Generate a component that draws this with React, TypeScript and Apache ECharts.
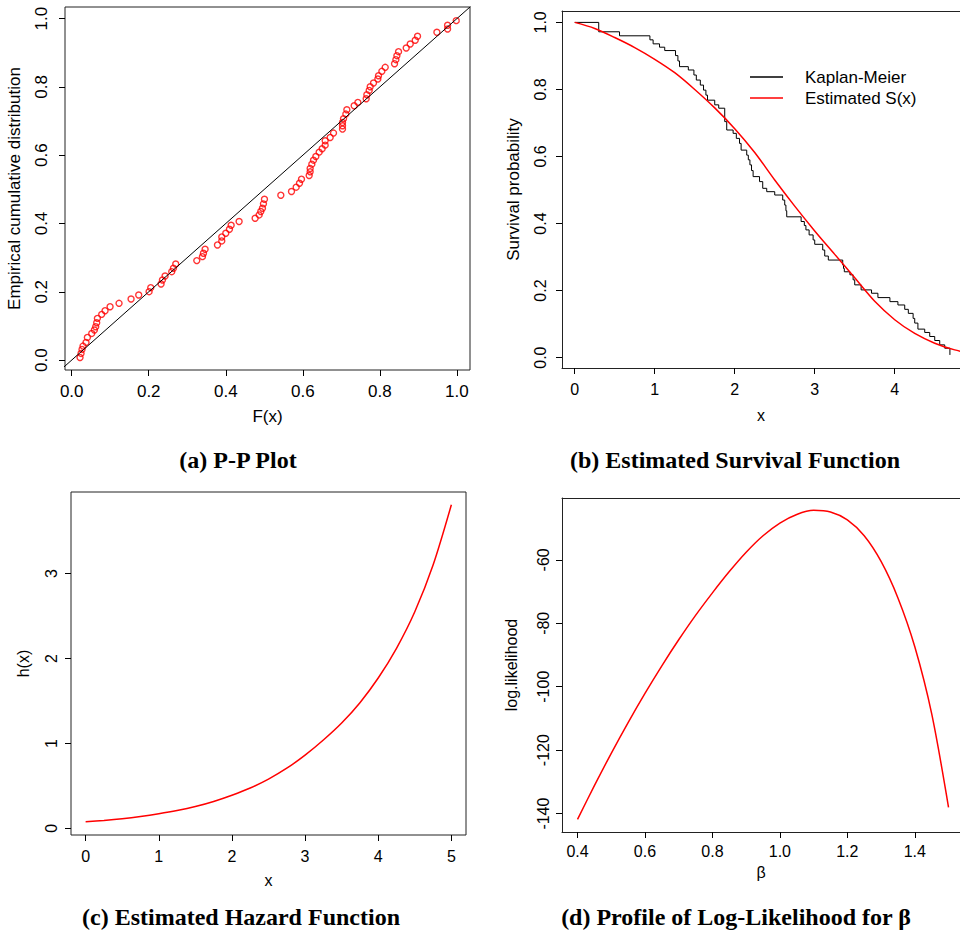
import React, { useEffect, useRef } from "react";
import * as echarts from "echarts";

// ---------- (a) P-P plot ----------
const ppF = [0.0216, 0.0242, 0.0268, 0.0294, 0.0372, 0.0407, 0.052, 0.0589, 0.0623, 0.0649, 0.0667, 0.0779, 0.0866, 0.0996, 0.1229, 0.1541, 0.174, 0.2009, 0.2052, 0.232, 0.2355, 0.2424, 0.2597, 0.2641, 0.2701, 0.3247, 0.3394, 0.342, 0.3463, 0.3784, 0.3896, 0.3896, 0.4, 0.4095, 0.4139, 0.4346, 0.4762, 0.4866, 0.4909, 0.4952, 0.4978, 0.5004, 0.5429, 0.5706, 0.5827, 0.5913, 0.5965, 0.6165, 0.619, 0.619, 0.6234, 0.6277, 0.6338, 0.6424, 0.6502, 0.658, 0.658, 0.671, 0.6797, 0.703, 0.703, 0.703, 0.7056, 0.7117, 0.7143, 0.7333, 0.7429, 0.7645, 0.7662, 0.7723, 0.7749, 0.7835, 0.7948, 0.7965, 0.8052, 0.8139, 0.8381, 0.8416, 0.8442, 0.8485, 0.8684, 0.8788, 0.8918, 0.8978, 0.9481, 0.9758, 0.9758, 0.9983];
const ppE = [0.0078, 0.0196, 0.0313, 0.041, 0.0518, 0.0665, 0.0782, 0.088, 0.0978, 0.1095, 0.1222, 0.1339, 0.1447, 0.1564, 0.1662, 0.1789, 0.1906, 0.2004, 0.2121, 0.2229, 0.2346, 0.2463, 0.259, 0.2688, 0.2815, 0.2913, 0.303, 0.3128, 0.3245, 0.3372, 0.349, 0.3607, 0.3715, 0.3832, 0.3949, 0.4057, 0.4154, 0.4252, 0.435, 0.4448, 0.4575, 0.471, 0.4829, 0.4936, 0.5064, 0.5181, 0.5298, 0.5406, 0.5513, 0.5611, 0.5738, 0.5855, 0.5963, 0.609, 0.6188, 0.6295, 0.6422, 0.652, 0.6647, 0.6764, 0.6862, 0.696, 0.7067, 0.7204, 0.7331, 0.7449, 0.7547, 0.7654, 0.7771, 0.7898, 0.8006, 0.8113, 0.8231, 0.8328, 0.8456, 0.8573, 0.868, 0.8798, 0.8915, 0.9032, 0.914, 0.9257, 0.9365, 0.9482, 0.9599, 0.9697, 0.9804, 0.9941];
const diagEnds = [-0.1, 1.1];
const ppTicks = [0, 0.2, 0.4, 0.6, 0.8, 1.0];

// ---------- (b) survival ----------
const kmTime = [0, 0.3, 0.56, 0.94, 0.98, 1.06, 1.125, 1.26, 1.29, 1.31, 1.42, 1.49, 1.52, 1.57, 1.61, 1.64, 1.66, 1.75, 1.8, 1.875, 1.9, 1.98, 2.02, 2.06, 2.08, 2.15, 2.17, 2.19, 2.21, 2.23, 2.31, 2.35, 2.4, 2.5, 2.6, 2.625, 2.64, 2.65, 2.83, 2.87, 2.89, 2.93, 2.98, 3.0, 3.1, 3.125, 3.17, 3.35, 3.36, 3.37, 3.44, 3.48, 3.5, 3.58, 3.71, 3.79, 3.94, 4.04, 4.125, 4.17, 4.23, 4.25, 4.29, 4.375, 4.4375, 4.5, 4.5625, 4.625, 4.69];
const kmSurv = [1.0, 0.972, 0.96, 0.948, 0.936, 0.926, 0.916, 0.901, 0.885, 0.868, 0.858, 0.843, 0.828, 0.813, 0.798, 0.783, 0.768, 0.754, 0.744, 0.704, 0.679, 0.669, 0.654, 0.639, 0.619, 0.604, 0.59, 0.575, 0.558, 0.54, 0.525, 0.505, 0.495, 0.485, 0.47, 0.455, 0.438, 0.42, 0.406, 0.394, 0.381, 0.366, 0.351, 0.338, 0.321, 0.303, 0.291, 0.276, 0.266, 0.256, 0.247, 0.232, 0.217, 0.202, 0.192, 0.179, 0.167, 0.157, 0.144, 0.132, 0.117, 0.103, 0.085, 0.075, 0.063, 0.051, 0.038, 0.028, 0.028];
const sX = [0, 0.25, 0.5, 0.75, 1.0, 1.25, 1.5, 1.75, 2.0, 2.25, 2.5, 2.75, 3.0, 3.25, 3.5, 3.75, 4.0, 4.25, 4.5, 4.75, 5.0];
const sY = [1.0, 0.982, 0.955, 0.925, 0.89, 0.85, 0.8, 0.745, 0.683, 0.612, 0.53, 0.452, 0.378, 0.308, 0.238, 0.168, 0.113, 0.072, 0.043, 0.023, 0.011];
const survXTicks = [0, 1, 2, 3, 4];
const survYTicks = [0, 0.2, 0.4, 0.6, 0.8, 1.0];

// ---------- (c) hazard ----------
const hX = [0, 0.25, 0.5, 0.75, 1.0, 1.25, 1.5, 1.75, 2.0, 2.25, 2.5, 2.75, 3.0, 3.25, 3.5, 3.75, 4.0, 4.25, 4.5, 4.75, 5.0];
const hY = [0.078, 0.094, 0.114, 0.14, 0.172, 0.21, 0.257, 0.317, 0.39, 0.475, 0.58, 0.708, 0.862, 1.04, 1.24, 1.48, 1.77, 2.12, 2.55, 3.1, 3.81];
const hXTicks = [0, 1, 2, 3, 4, 5];
const hYTicks = [0, 1, 2, 3];

// ---------- (d) profile log-likelihood ----------
const betaVals = [0.4, 0.45, 0.5, 0.55, 0.6, 0.65, 0.7, 0.75, 0.8, 0.85, 0.9, 0.95, 1.0, 1.05, 1.1, 1.15, 1.2, 1.25, 1.3, 1.35, 1.4, 1.45, 1.5];
const llVals = [-141.8, -131.2, -121.0, -111.3, -102.1, -93.4, -85.2, -77.5, -70.4, -63.7, -57.6, -52.4, -48.4, -45.7, -44.4, -44.9, -47.4, -52.4, -60.5, -72.0, -87.4, -108.5, -138];
const betaTicks = [0.4, 0.6, 0.8, 1.0, 1.2, 1.4];
const llTicks = [-140, -120, -100, -80, -60];

const FONT = "'Liberation Sans', Arial, Helvetica, sans-serif";
const SERIF = "'Liberation Serif', 'Times New Roman', serif";
const RED = "#ff0000";
const FRAME = "#222";

function xAxisOf(gi: number, min: number, max: number, ticks: number[], fmt: (v: number) => string, name: string, margin: number, nameGap: number, fs: number, frameLine: boolean) {
  return {
    type: "value", gridIndex: gi, min, max, position: "bottom",
    axisLine: { show: frameLine, onZero: false, lineStyle: { color: FRAME, width: 1 } },
    splitLine: { show: false },
    axisTick: { show: true, length: 6, customValues: ticks, lineStyle: { color: "#000", width: 1 } },
    axisLabel: { show: true, customValues: ticks, formatter: fmt, margin, color: "#000", fontFamily: FONT, fontSize: fs },
    name, nameLocation: "middle", nameGap,
    nameTextStyle: { color: "#000", fontFamily: FONT, fontSize: fs },
  };
}
function topLineOf(gi: number, min: number, max: number) {
  return {
    type: "value", gridIndex: gi, min, max, position: "top",
    axisLine: { show: true, onZero: false, lineStyle: { color: FRAME, width: 1 } },
    splitLine: { show: false }, axisTick: { show: false }, axisLabel: { show: false },
  };
}
function yAxisOf(gi: number, min: number, max: number, ticks: number[], fmt: (v: number) => string, name: string, margin: number, nameGap: number, fs: number, nfs: number, frameLine: boolean) {
  return {
    type: "value", gridIndex: gi, min, max, position: "left",
    axisLine: { show: frameLine, onZero: false, lineStyle: { color: FRAME, width: 1 } },
    splitLine: { show: false },
    axisTick: { show: true, length: 6, customValues: ticks, lineStyle: { color: "#000", width: 1 } },
    axisLabel: { show: true, customValues: ticks, formatter: fmt, margin, rotate: 90, color: "#000", fontFamily: FONT, fontSize: fs },
    name, nameLocation: "middle", nameGap,
    nameTextStyle: { color: "#000", fontFamily: FONT, fontSize: nfs },
  };
}

const f1 = (v: number) => v.toFixed(1);
const f0 = (v: number) => String(Math.round(v));

export default function App() {
  const ref = useRef<HTMLDivElement>(null);
  useEffect(() => {
    if (!ref.current) return;
    const chart = echarts.init(ref.current, undefined, { renderer: "svg" });
    const boxed = { show: true, borderColor: FRAME, borderWidth: 1, backgroundColor: "transparent", containLabel: false };
    const open = { show: false, containLabel: false };
    const kmData = kmTime.map((t, i) => [t, kmSurv[i]]);
    const lastT = kmTime[kmTime.length - 1];
    const lastS = kmSurv[kmSurv.length - 1];
    const cap = (x: number, y: number, text: string) => ({
      type: "text", x, y,
      style: { text, fill: "#000", font: `bold 24px ${SERIF}`, textAlign: "center", textVerticalAlign: "middle" },
    });
    const bMin = -0.159, bMax = 4.816, dMin = 0.354, dMax = 1.534;
    const option: any = {
      animation: false,
      backgroundColor: "#fff",
      grid: [
        { ...boxed, left: 65, top: 7, width: 405, height: 363 },
        { ...open, left: 562, top: 11, width: 398, height: 357 },
        { ...boxed, left: 71, top: 492, width: 395, height: 343 },
        { ...open, left: 562, top: 498, width: 398, height: 334 },
      ],
      xAxis: [
        xAxisOf(0, -0.0174, 1.034, ppTicks, f1, "F(x)", 13, 38, 17, false),
        xAxisOf(1, bMin, bMax, survXTicks, f0, "x", 13, 39, 16, true),
        xAxisOf(2, -0.2, 5.2, hXTicks, f0, "x", 13, 37, 16, false),
        xAxisOf(3, dMin, dMax, betaTicks, f1, "β", 11, 32, 16, true),
        topLineOf(1, bMin, bMax),
        topLineOf(3, dMin, dMax),
      ],
      yAxis: [
        yAxisOf(0, -0.029, 1.034, ppTicks, f1, "Empirical cumulative distribution", 15, 42, 17, 17, false),
        yAxisOf(1, -0.031, 1.034, survYTicks, f1, "Survival probability", 14, 40, 16, 17, true),
        yAxisOf(2, -0.078, 3.96, hYTicks, f0, "h(x)", 12, 40, 16, 16, false),
        yAxisOf(3, -145.8, -40.5, llTicks, f0, "log.likelihood", 11, 43, 16, 16, true),
      ],
      series: [
        {
          type: "line", xAxisIndex: 0, yAxisIndex: 0, clip: true, symbol: "none",
          data: diagEnds.map((v) => [v, v]),
          lineStyle: { color: "#000", width: 1 },
        },
        {
          type: "scatter", xAxisIndex: 0, yAxisIndex: 0, symbol: "circle", symbolSize: 6,
          data: ppF.map((f, i) => [f, ppE[i]]),
          itemStyle: { color: "rgba(0,0,0,0)", borderColor: RED, borderWidth: 1.4 },
        },
        {
          name: "Kaplan-Meier", type: "line", xAxisIndex: 1, yAxisIndex: 1, step: "end", symbol: "none", clip: true,
          data: kmData, lineStyle: { color: "#000", width: 1 },
        },
        {
          type: "line", xAxisIndex: 1, yAxisIndex: 1, symbol: "none", clip: true,
          data: [[lastT, lastS], [lastT, lastS - 0.02]], lineStyle: { color: "#000", width: 1 },
        },
        {
          name: "Estimated S(x)", type: "line", xAxisIndex: 1, yAxisIndex: 1, symbol: "none", smooth: 0.3, clip: true,
          data: sX.map((x, i) => [x, sY[i]]), lineStyle: { color: RED, width: 1.5 },
        },
        {
          type: "line", xAxisIndex: 2, yAxisIndex: 2, symbol: "none", smooth: 0.3,
          data: hX.map((x, i) => [x, hY[i]]), lineStyle: { color: RED, width: 1.5 },
        },
        {
          type: "line", xAxisIndex: 3, yAxisIndex: 3, symbol: "none", smooth: 0.3,
          data: betaVals.map((x, i) => [x, llVals[i]]), lineStyle: { color: RED, width: 1.5 },
        },
      ],
      graphic: [
        { type: "line", shape: { x1: 750, y1: 77, x2: 783, y2: 77 }, style: { stroke: "#000", lineWidth: 1.5 } },
        { type: "line", shape: { x1: 750, y1: 98, x2: 783, y2: 98 }, style: { stroke: RED, lineWidth: 1.5 } },
        { type: "text", x: 805, y: 77, style: { text: "Kaplan-Meier", fill: "#000", font: `17px ${FONT}`, textVerticalAlign: "middle" } },
        { type: "text", x: 805, y: 98, style: { text: "Estimated S(x)", fill: "#000", font: `17px ${FONT}`, textVerticalAlign: "middle" } },
        cap(238, 460, "(a) P-P Plot"),
        cap(735, 460, "(b) Estimated Survival Function"),
        cap(241, 917, "(c) Estimated Hazard Function"),
        cap(736, 917, "(d) Profile of Log-Likelihood for β"),
      ],
    };
    chart.setOption(option);
    return () => chart.dispose();
  }, []);
  return <div ref={ref} style={{ position: "fixed", left: 0, top: 0, width: 960, height: 931, background: "#fff" }} />;
}
